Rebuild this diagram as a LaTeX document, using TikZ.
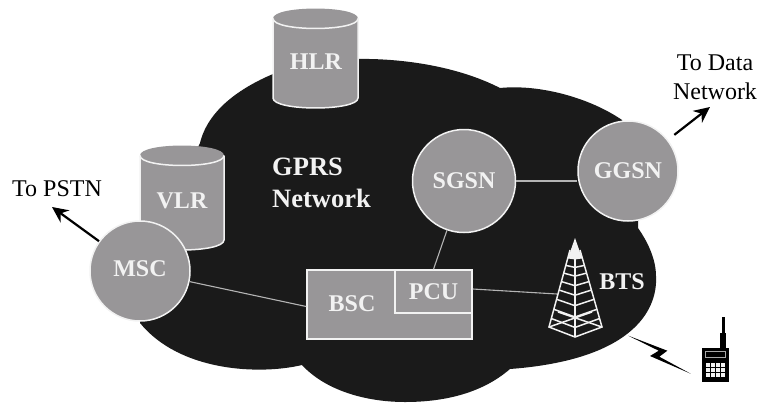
\documentclass[tikz,border=0pt]{standalone}
\usepackage{fontspec}
\setmainfont{Liberation Serif}
\usetikzlibrary{arrows.meta,calc}
\definecolor{cloudblack}{HTML}{1A1A1A}
\definecolor{boxgray}{HTML}{989698}
\definecolor{edgewhite}{HTML}{F2F2F2}
\definecolor{linkgray}{HTML}{B4B4B4}
\newcommand{\drumshape}[5]{% left, right, top centre y, side bottom y, ry
  \fill[boxgray] (#1,#3) -- (#1,#4) .. controls (#1,{#4+1.33*#5}) and (#2,{#4+1.33*#5}) .. (#2,#4) -- (#2,#3)
     .. controls (#2,{#3-1.33*#5}) and (#1,{#3-1.33*#5}) .. (#1,#3) -- cycle;
  \draw[edgewhite,line width=1.5pt] (#1,#3) -- (#1,#4) .. controls (#1,{#4+1.33*#5}) and (#2,{#4+1.33*#5}) .. (#2,#4) -- (#2,#3);
  \draw[edgewhite,line width=1.5pt] (#1,#3) .. controls (#1,{#3+1.33*#5}) and (#2,{#3+1.33*#5}) .. (#2,#3);
}
\tikzset{
  lab/.style={font=\fontsize{24}{24}\selectfont\bfseries,text=edgewhite,inner sep=0pt},
  biglab/.style={font=\fontsize{26.5}{26.5}\selectfont\bfseries,text=edgewhite,inner sep=0pt},
  plain/.style={font=\fontsize{24}{29}\selectfont,text=black,inner sep=0pt,align=center},
  hub/.style={circle,draw=edgewhite,line width=1.5pt,fill=boxgray,inner sep=0pt,lab},
  unit/.style={rectangle,draw=edgewhite,line width=1.5pt,fill=boxgray,inner sep=0pt,lab},
  link/.style={draw=linkgray,line width=1.1pt},
  outarrow/.style={draw=black,line width=2.2pt,-{Stealth[length=16pt,width=15pt]}},
  towerline/.style={draw=edgewhite,line width=1.5pt}
}
\begin{document}
\begin{tikzpicture}[x=1pt,y=-1pt]
\useasboundingbox (0,0) rectangle (763,405);
% cloud
\fill[cloudblack]
  (200,143) .. controls (208,110) and (240,88) .. (273,74)
  .. controls (320,52) and (430,52) .. (500,88)
  .. controls (540,84) and (590,98) .. (622,120)
  -- (640,170) -- (638,228)
  .. controls (650,245) and (656,262) .. (656,276)
  .. controls (658,312) and (630,360) .. (510,369)
  .. controls (480,395) and (440,402) .. (405,402)
  .. controls (365,402) and (325,390) .. (302,365)
  .. controls (260,375) and (180,372) .. (140,323)
  -- (140,270) -- cycle;
% cylinders
\drumshape{273}{358}{18.5}{98}{10}
\drumshape{140}{224}{155.5}{240}{10}
\node[lab] (hlr) at (316,62) {HLR};
\node[lab] (vlr) at (182,201) {VLR};
% units
\node[hub,minimum size=100pt,text depth=4pt] (msc) at (140,271) {MSC};
\node[hub,minimum size=103pt] (sgsn) at (464,181) {SGSN};
\node[hub,minimum size=100pt] (ggsn) at (628,171) {GGSN};
\node[unit,minimum width=165pt,minimum height=69pt] (bsc) at (389.5,304.5) {};
\node[unit,minimum width=77pt,minimum height=43pt] (pcu) at (433.5,291.5) {PCU};
\node[lab] (bsclabel) at (352,304) {BSC};
% free ends
\coordinate (pstn) at (52,207);
\coordinate (data) at (710,107);
\coordinate (towerfoot) at (557,294);
% links
\draw[link] (msc) -- ([yshift=-2pt]bsc.west);
\draw[link] (sgsn) -- (pcu.north);
\draw[link] (sgsn.east) -- (sgsn.east -| ggsn.west);
\draw[link] ([yshift=2.5pt]pcu.east) -- (towerfoot);
\draw[outarrow] (msc) -- (pstn);
\draw[outarrow,shorten <=8pt] (ggsn) -- (data);
% tower
\fill[edgewhite] (575,238) -- (568,258) -- (582,258) -- cycle;
\draw[towerline] (570,250) -- (549,327) -- (575,337) -- (602,327) -- (580,250);
\draw[towerline] (575,245) -- (575,337);
\foreach \t in {.1,.2,.3,.41,.52,.64,.77,.89}{
  \draw[towerline] ({570-21*\t},{250+77*\t}) -- (575,{250+77*\t+10*\t}) -- ({580+22*\t},{250+77*\t});
}
\draw[towerline] (549,327) -- (592,312);
\draw[towerline] (602,327) -- (558,312);
% texts
\node[biglab,anchor=base west] (gprs) at (272,175) {GPRS};
\node[biglab,anchor=base west] (gprsnet) at (272,207) {Network};
\node[lab,anchor=base] (bts) at (622,289) {BTS};
\node[plain,anchor=base west] (topstn) at (12,196) {To PSTN};
\node[plain,anchor=base] (todata1) at (715,70) {To Data};
\node[plain,anchor=base] (todata2) at (715,99) {Network};
% radio link
\fill[black] (628.3,335.7) -- (667.3,350.7) -- (659.3,356.7) -- (690.7,373.7) -- (650,356) -- (658.7,350.7) -- cycle;
% handset
\fill[black] (721.5,316.5) rectangle (724.5,335);
\fill[black] (720,333) rectangle (725.5,349);
\fill[black] (701.7,348.3) rectangle (729,382.3);
\draw[edgewhite!70!black,line width=.8pt] (705,351.5) rectangle (725.5,357.5);
\foreach \cx in {0,1,2,3}{\foreach \cy in {0,1,2}{
  \fill[edgewhite] ({706+4.9*\cx},{362.5+5.2*\cy}) rectangle ({709.8+4.9*\cx},{366.6+5.2*\cy});
}}
\end{tikzpicture}
\end{document}
